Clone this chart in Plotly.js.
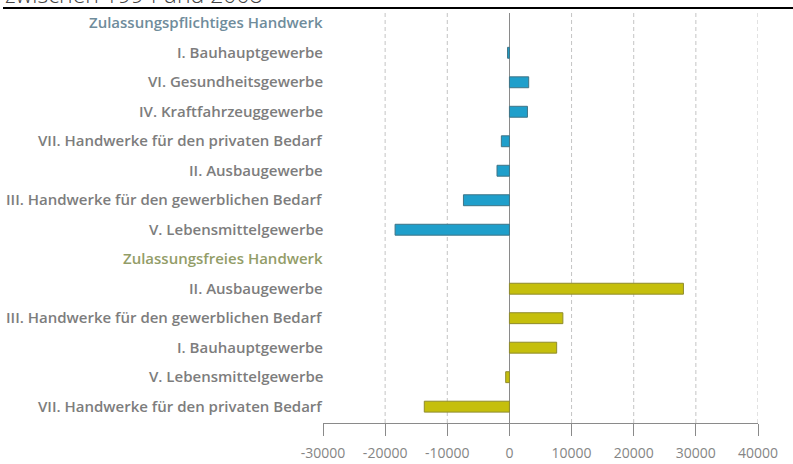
<!DOCTYPE html>
<html><head><meta charset="utf-8">
<script src="https://cdn.plot.ly/plotly-3.0.1.min.js"></script>
<style>body{margin:0;padding:0;background:#fff}#chart{width:793px;height:464px}</style>
</head><body><div id="chart"></div>
<script>
const titleText = "zwischen 1994 und 2008";
const headerPflicht = "Zulassungspflichtiges Handwerk";
const headerFrei = "Zulassungsfreies Handwerk";
const pflichtCategories = ["I. Bauhauptgewerbe","VI. Gesundheitsgewerbe","IV. Kraftfahrzeuggewerbe","VII. Handwerke für den privaten Bedarf","II. Ausbaugewerbe","III. Handwerke für den gewerblichen Bedarf","V. Lebensmittelgewerbe"];
const pflichtValues = [-300, 3100, 2900, -1300, -2000, -7400, -18400];
const freiCategories = ["II. Ausbaugewerbe","III. Handwerke für den gewerblichen Bedarf","I. Bauhauptgewerbe","V. Lebensmittelgewerbe","VII. Handwerke für den privaten Bedarf"];
const freiValues = [28000, 8600, 7600, -600, -13700];
const xTickVals = [-30000,-20000,-10000,0,10000,20000,30000,40000];
const xTickText = ["-30000","-20000","-10000","0","10000","20000","30000","40000"];

const W = 793, H = 464, ML = 323, MR = 35, MT = 13, MB = 41;
const plotW = W - ML - MR, plotH = H - MT - MB;

// row order: header, pflicht rows, header, frei rows
const rows = [];
rows.push({text: headerPflicht, color: '#6f8c9b'});
const pflichtRows = [], freiRows = [];
pflichtCategories.forEach(c => { pflichtRows.push(rows.length); rows.push({text: c, color: '#7d7d7d'}); });
rows.push({text: headerFrei, color: '#939d68'});
freiCategories.forEach(c => { freiRows.push(rows.length); rows.push({text: c, color: '#7d7d7d'}); });

const traces = [
 {type:'bar', orientation:'h', y:pflichtRows, x:pflichtValues, width:0.37,
  marker:{color:'#1f9fcb', line:{color:'#3f7486', width:1}}, hoverinfo:'x'},
 {type:'bar', orientation:'h', y:freiRows, x:freiValues, width:0.37,
  marker:{color:'#c5bf0c', line:{color:'#8f8b2c', width:1}}, hoverinfo:'x'}
];

const labelX = (325 - ML) / plotW;
const annotations = rows.map((r, i) => ({
  text: r.text, xref:'paper', yref:'y', x: labelX, y: i, xanchor:'right', yanchor:'middle', yshift:1,
  showarrow:false, font:{size:15, color:r.color, family:'"Open Sans", sans-serif', weight:600}
}));
annotations.push({text:titleText, xref:'paper', yref:'paper', x:(3-ML)/plotW, y:1, xanchor:'left', yanchor:'bottom',
   showarrow:false, font:{size:23, color:'#444', family:'"Open Sans", sans-serif', weight:300}, yshift:1});

// dashed gridlines at tick values (except the left axis end and the zero line)
const shapes = xTickVals.filter(v => v !== xTickVals[0] && v !== 0).map(v => ({
  type:'line', xref:'x', yref:'paper', x0:v, x1:v, y0:0, y1:1,
  line:{color:'#c4c4c4', width:1, dash:'4px,3px'}, layer:'below'}));
shapes.push({type:'line', xref:'paper', yref:'paper', x0:(3-ML)/plotW, x1:(W-ML)/plotW,
  y0:1 + (MT-8)/plotH, y1:1 + (MT-8)/plotH, line:{color:'#000', width:2}, layer:'above'});

const layout = {
 width:W, height:H, showlegend:false,
 paper_bgcolor:'#fff', plot_bgcolor:'rgba(0,0,0,0)',
 margin:{l:ML, r:MR, t:MT, b:MB},
 barmode:'overlay',
 font:{family:'"Open Sans", sans-serif', color:'#7a7a7a'},
 xaxis:{range:[-30000,40000], tickmode:'array', tickvals:xTickVals, ticktext:xTickText,
  showgrid:false,
  zeroline:true, zerolinecolor:'#8a8a8a', zerolinewidth:1,
  showline:true, linecolor:'#8a8a8a', linewidth:1,
  ticks:'outside', ticklen:12, tickcolor:'#8a8a8a', tickwidth:1, ticklabelstandoff:5,
  tickfont:{size:14, color:'#858585', family:'"Open Sans", sans-serif'}, fixedrange:true},
 yaxis:{range:[13.554,-0.349], showticklabels:false,
  showgrid:false, zeroline:false, showline:false, ticks:'', fixedrange:true},
 shapes: shapes,
 annotations: annotations
};

Plotly.newPlot('chart', traces, layout, {displayModeBar:false, staticPlot:true});
</script></body></html>
